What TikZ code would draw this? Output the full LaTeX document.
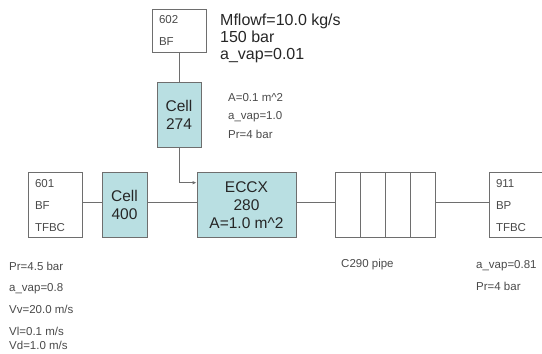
\documentclass[tikz,border=0pt]{standalone}
\usepackage{fontspec}
\setmainfont{Liberation Sans}
\usetikzlibrary{arrows.meta}
\definecolor{cellfill}{HTML}{B9DFE2}
\definecolor{wiregray}{HTML}{6E6E6E}
\definecolor{notegray}{HTML}{4A4A4A}

\begin{document}
\begin{tikzpicture}[
    x=1pt, y=-1pt,
    bcbox/.style={rectangle, draw=wiregray, line width=0.8pt, fill=white, align=left,
        text width=40pt, inner xsep=7pt, minimum height=65pt, text=notegray,
        font=\fontsize{11.5}{22}\selectfont},
    cellbox/.style={rectangle, draw=wiregray, line width=0.8pt, fill=cellfill, align=center,
        inner sep=0pt, minimum height=65pt, text=black!85, font=\fontsize{15.5}{18}\selectfont},
    pipebox/.style={rectangle, draw=wiregray, line width=0.8pt, minimum width=100pt, minimum height=65pt},
    notetext/.style={anchor=west, inner sep=0pt, align=left, text=notegray,
        font=\fontsize{11.5}{21.7}\selectfont},
    bigtext/.style={anchor=west, inner sep=0pt, align=left, text=black!85,
        font=\fontsize{16}{16.7}\selectfont},
    wire/.style={draw=wiregray, line width=0.8pt},
]
\useasboundingbox (0,0) rectangle (542,354);

% Feed on top
\node[bcbox, minimum height=43pt] (bf602) at (179,30.5) {602\\BF};
\node[bigtext] (feeddata) at (220,38.3) {Mflowf=10.0 kg/s\\150 bar\\a\_vap=0.01};

\node[cellbox, minimum width=44pt] (cell274) at (179,115.3) {Cell\\274};
\node[notetext, font=\fontsize{11.5}{18.7}\selectfont] (celldata) at (228,116) {A=0.1 m\textasciicircum 2\\a\_vap=1.0\\Pr=4 bar};

% Main line
\node[bcbox] (bf601) at (55,205.2) {601\\BF\\TFBC};
\node[cellbox, minimum width=45pt] (cell400) at (124.5,205.2) {Cell\\400};
\node[cellbox, minimum width=99pt, font=\fontsize{15.5}{18.3}\selectfont] (eccx) at (246.5,205.2) {ECCX\\280\\A=1.0 m\textasciicircum 2};
\node[pipebox] (pipe) at (385,205.2) {};
\draw[wire] (360,172.7) -- (360,237.7) (385,172.7) -- (385,237.7) (410,172.7) -- (410,237.7);
\node[bcbox] (bp911) at (516,205.2) {911\\BP\\TFBC};

% Connections
\draw[wire] (bf602) -- (cell274);
\draw[wire, -{Latex[length=4pt,width=3.5pt]}] (cell274.south) |- ([yshift=22.5pt]eccx.west);
\draw[wire] ([yshift=3pt]bf601.east) -- ([yshift=3pt]cell400.west);
\draw[wire] ([yshift=3pt]cell400.east) -- ([yshift=3pt]eccx.west);
\draw[wire] ([yshift=3pt]eccx.east) -- ([yshift=3pt]pipe.west);
\draw[wire] ([yshift=3pt]pipe.east) -- ([yshift=3pt]bp911.west);

% Labels below
\node[notetext] (inletdata) at (9,305.5) {Pr=4.5 bar\\a\_vap=0.8\\Vv=20.0 m/s\\Vl=0.1 m/s\\[-7.7pt]Vd=1.0 m/s};
\node[notetext] (pipelabel) at (341,264.3) {C290 pipe};
\node[notetext] (outletdata) at (476,275.2) {a\_vap=0.81\\Pr=4 bar};

\end{tikzpicture}
\end{document}
